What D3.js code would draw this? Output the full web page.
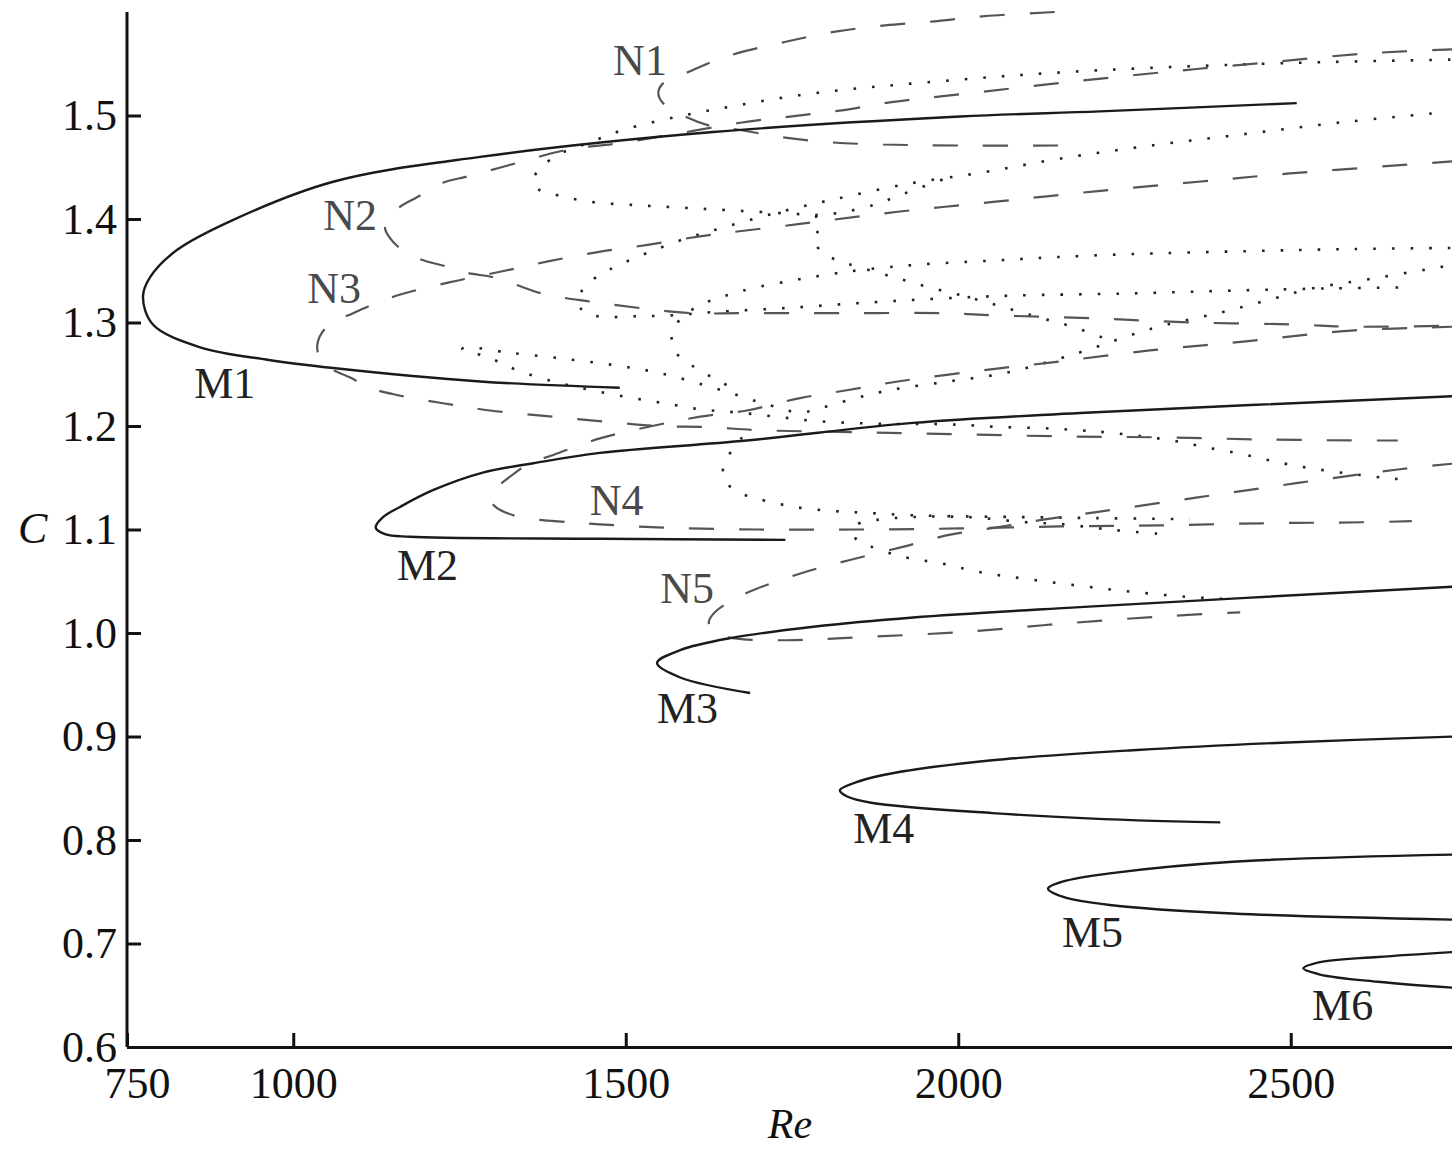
<!DOCTYPE html>
<html>
<head>
<meta charset="utf-8">
<script src="https://cdn.jsdelivr.net/npm/d3@7"></script>
<style>
  html, body { margin: 0; padding: 0; background: #fff; }
  .fold-chart text { font-family: "Liberation Serif", "Times New Roman", serif; }
  .fold-chart__axis path, .fold-chart__axis line { stroke: #111; stroke-width: 3; }
  .fold-chart__axis text { font-size: 44px; fill: #111; }
</style>
</head>
<body>
<div id="chart"></div>
<script>
// branches, points are [Re, C]
const m1 = [[2509,1.512],[2213,1.504],[2003,1.499],[1631,1.484],[1281,1.460],[1060,1.436],[909,1.399],[825,1.370],[785,1.344],[774,1.325],[789,1.298],[860,1.276],[961,1.264],[1060,1.256],[1281,1.243],[1491,1.237]];
const m2 = [[2750,1.229],[2183,1.2125],[1932,1.203],[1682,1.186],[1461,1.174],[1361,1.164],[1285,1.155],[1210,1.138],[1161,1.122],[1135,1.112],[1124,1.102],[1138,1.0955],[1176,1.093],[1461,1.091],[1740,1.090]];
const m3 = [[2750,1.045],[2183,1.025],[1932,1.015],[1782,1.006],[1657,0.995],[1582,0.9835],[1547,0.971],[1582,0.957],[1687,0.942]];
const m4 = [[2750,0.900],[2486,0.894],[2269,0.887],[2051,0.877],[1905,0.865],[1852,0.857],[1822,0.848],[1833,0.842],[1869,0.836],[2051,0.826],[2269,0.819],[2394,0.817]];
const m5 = [[2750,0.786],[2413,0.779],[2231,0.768],[2158,0.760],[2135,0.753],[2158,0.745],[2231,0.737],[2413,0.729],[2750,0.723]];
const m6 = [[2750,0.692],[2631,0.687],[2544,0.682],[2519,0.676],[2544,0.670],[2631,0.663],[2750,0.657]];

const n1 = [[2145,1.600],[2040,1.596],[1965,1.591],[1890,1.587],[1815,1.581],[1739,1.571],[1667,1.560],[1630,1.552],[1594,1.542],[1556,1.531],[1549,1.522],[1556,1.512],[1586,1.500],[1627,1.490],[1672,1.486],[1735,1.479],[1810,1.474],[1887,1.472],[2003,1.471],[2153,1.471]];
const n2 = [[2750,1.564],[2615,1.560],[2461,1.551],[2311,1.542],[2161,1.532],[2010,1.521],[1900,1.513],[1825,1.505],[1747,1.499],[1672,1.493],[1582,1.483],[1487,1.473],[1412,1.467],[1336,1.454],[1261,1.441],[1225,1.435],[1186,1.421],[1161,1.412],[1142,1.401],[1138,1.391],[1145,1.382],[1158,1.373],[1188,1.362],[1231,1.354],[1261,1.348],[1306,1.343],[1374,1.328],[1449,1.320],[1521,1.314],[1601,1.309],[1672,1.309],[1825,1.309],[1977,1.309],[2052,1.307],[2203,1.304],[2353,1.300],[2511,1.298],[2586,1.296],[2750,1.297]];
const n3 = [[2750,1.456],[2499,1.444],[2361,1.436],[2210,1.427],[2060,1.417],[1909,1.407],[1759,1.395],[1609,1.383],[1533,1.375],[1458,1.368],[1383,1.359],[1311,1.349],[1236,1.339],[1161,1.327],[1126,1.319],[1090,1.309],[1060,1.300],[1043,1.290],[1036,1.277],[1040,1.266],[1052,1.257],[1085,1.247],[1115,1.237],[1156,1.230],[1225,1.222],[1296,1.215],[1391,1.209],[1472,1.204],[1547,1.200],[1624,1.199],[1699,1.196],[1849,1.194],[2000,1.192],[2153,1.190],[2304,1.189],[2457,1.187],[2607,1.186],[2661,1.186]];
const n4 = [[2750,1.296],[2586,1.292],[2436,1.282],[2288,1.273],[2135,1.261],[2052,1.255],[1909,1.243],[1837,1.235],[1762,1.227],[1682,1.215],[1612,1.209],[1547,1.201],[1461,1.188],[1391,1.172],[1356,1.164],[1326,1.151],[1303,1.138],[1297,1.128],[1306,1.121],[1341,1.112],[1416,1.107],[1461,1.105],[1547,1.102],[1699,1.100],[1852,1.100],[2003,1.101],[2153,1.103],[2304,1.104],[2457,1.106],[2607,1.107],[2682,1.108]];
const n5 = [[2750,1.164],[2661,1.158],[2511,1.145],[2360,1.131],[2210,1.117],[2123,1.109],[2058,1.102],[1988,1.095],[1915,1.083],[1840,1.071],[1765,1.058],[1694,1.042],[1661,1.032],[1634,1.020],[1625,1.011],[1631,1.001],[1661,0.995],[1742,0.993],[1855,0.996],[2006,1.001],[2156,1.009],[2306,1.016],[2424,1.020]];

const pA = [[2740,1.554],[2514,1.551],[2288,1.546],[2138,1.541],[2028,1.536],[1915,1.530],[1830,1.525],[1744,1.518],[1661,1.509],[1579,1.499],[1496,1.486],[1442,1.473],[1401,1.463],[1373,1.450],[1361,1.438],[1368,1.429],[1386,1.425],[1442,1.417],[1526,1.413],[1612,1.410],[1697,1.407],[1753,1.405],[1792,1.404],[1830,1.407],[1875,1.414],[1912,1.423],[1980,1.439]];
const pB = [[2712,1.502],[2571,1.493],[2430,1.482],[2290,1.471],[2150,1.458],[2037,1.445],[1924,1.434],[1813,1.419],[1758,1.411],[1703,1.402],[1648,1.392],[1594,1.382],[1539,1.369],[1488,1.355],[1464,1.347],[1440,1.336],[1430,1.324],[1434,1.312],[1458,1.306],[1515,1.306],[1571,1.307],[1630,1.310],[1742,1.314],[1857,1.319],[1968,1.323],[2082,1.326],[2254,1.328],[2422,1.331],[2564,1.333],[2679,1.334]];
const pC = [[2729,1.354],[2619,1.342],[2533,1.333],[2479,1.324],[2397,1.310],[2314,1.298],[2260,1.288],[2206,1.276],[2152,1.265],[2069,1.251],[1985,1.243],[1900,1.235],[1846,1.227],[1791,1.217],[1762,1.213],[1717,1.220],[1642,1.235],[1552,1.251],[1491,1.258],[1407,1.265],[1323,1.271],[1258,1.276],[1254,1.274],[1285,1.268],[1309,1.262],[1336,1.254],[1391,1.243],[1445,1.235],[1502,1.228],[1558,1.222],[1613,1.216],[1669,1.213],[1726,1.209],[1782,1.205],[1839,1.203],[1896,1.202],[1953,1.202],[2009,1.201],[2063,1.199],[2123,1.198],[2180,1.196],[2236,1.193],[2321,1.186],[2376,1.179],[2433,1.172],[2488,1.164],[2542,1.158],[2600,1.153],[2655,1.149],[2684,1.148]];
const pD = [[1675,1.189],[1663,1.179],[1648,1.164],[1648,1.148],[1670,1.136],[1697,1.130],[1752,1.122],[1809,1.118],[1864,1.116],[1921,1.114],[1977,1.113],[2093,1.112],[2207,1.111],[2348,1.110]];
const pE = [[2740,1.372],[2595,1.371],[2439,1.369],[2255,1.366],[2141,1.363],[2057,1.360],[1942,1.356],[1857,1.351],[1801,1.346],[1746,1.340],[1690,1.333],[1661,1.328],[1636,1.323],[1609,1.316],[1585,1.305],[1570,1.291],[1573,1.273],[1594,1.261],[1618,1.251],[1643,1.243],[1666,1.233]];
const pF = [[1785,1.403],[1795,1.393],[1782,1.382],[1795,1.368],[1819,1.360],[1848,1.354],[1902,1.344],[1956,1.334],[2012,1.325],[2067,1.315],[2121,1.305],[2176,1.295],[2231,1.282]];
const pG = [[2299,1.096],[2242,1.099],[2213,1.101],[2158,1.105],[2102,1.107],[2015,1.112],[1931,1.112],[1875,1.109],[1848,1.105],[1842,1.099],[1846,1.091],[1867,1.084],[1921,1.073],[1977,1.067],[2031,1.059],[2117,1.051],[2230,1.042],[2342,1.035],[2398,1.033]];

const labelNames = ['N1', 'N2', 'N3', 'M1', 'N4', 'M2', 'N5', 'M3', 'M4', 'M5', 'M6'];
const labelRe = [1481, 1045, 1021, 851, 1446, 1156, 1552, 1547, 1842, 2156, 2532];
const labelC = [1.539, 1.389, 1.319, 1.227, 1.114, 1.051, 1.029, 0.913, 0.797, 0.697, 0.626];

const xTicks = [750, 1000, 1500, 2000, 2500];
const yTicks = [0.6, 0.7, 0.8, 0.9, 1.0, 1.1, 1.2, 1.3, 1.4, 1.5];

class FoldChart {
  constructor(el) {
    this.el = el;
    this.width = 1452;
    this.height = 1152;
    this.x = d3.scaleLinear().domain([750, 2750]).range([127, 1457]);
    this.y = d3.scaleLinear().domain([0.6, 1.6]).range([1047, 12]);
    this.line = d3.line()
      .x(d => this.x(d[0]))
      .y(d => this.y(d[1]))
      .curve(d3.curveCatmullRom.alpha(0.5));
  }

  render() {
    this.svg = d3.select(this.el).append('svg')
        .attr('class', 'fold-chart')
        .attr('width', this.width)
        .attr('height', this.height);

    this.svg.append('rect')
        .attr('width', this.width)
        .attr('height', this.height)
        .attr('fill', '#fff');

    this.drawCurves();
    this.drawAxes();
    this.drawLabels();
  }

  drawCurves() {
    const g = this.svg.append('g').attr('fill', 'none');

    // dotted family first so the heavier lines sit on top
    g.selectAll('.dotted')
        .data([pA, pB, pC, pD, pE, pF, pG])
      .enter().append('path')
        .attr('class', 'dotted')
        .attr('d', this.line)
        .attr('stroke', '#222')
        .attr('stroke-width', 2.6)
        .attr('stroke-dasharray', '2.6,16');

    g.selectAll('.dashed')
        .data([n1, n2, n3, n4, n5])
      .enter().append('path')
        .attr('class', 'dashed')
        .attr('d', this.line)
        .attr('stroke', '#555')
        .attr('stroke-width', 2.2)
        .attr('stroke-dasharray', '25,25');

    g.selectAll('.solid')
        .data([m1, m2, m3, m4, m5, m6])
      .enter().append('path')
        .attr('class', 'solid')
        .attr('d', this.line)
        .attr('stroke', '#1a1a1a')
        .attr('stroke-width', 2.4);
  }

  drawAxes() {
    const yAxis = this.svg.append('g')
        .attr('class', 'fold-chart__axis')
        .attr('transform', `translate(${this.x(750)},0)`)
        .call(d3.axisLeft(this.y)
          .tickValues(yTicks)
          .tickFormat(d3.format('.1f'))
          .tickSize(-14)
          .tickSizeOuter(0)
          .tickPadding(10));
    yAxis.select('.domain').attr('d', `M0,${this.y(1.6)}V${this.y(0.6)}`);

    const xAxis = this.svg.append('g')
        .attr('class', 'fold-chart__axis')
        .attr('transform', `translate(0,${this.y(0.6)})`)
        .call(d3.axisBottom(this.x)
          .tickValues(xTicks)
          .tickFormat(d3.format('d'))
          .tickSize(-14)
          .tickSizeOuter(0)
          .tickPadding(20));
    xAxis.selectAll('.tick')
        .filter(d => d === 750)
        .select('text')
        .attr('dx', 10);

    this.svg.append('text')
        .attr('x', 18)
        .attr('y', 543)
        .attr('font-size', 44)
        .attr('font-style', 'italic')
        .attr('fill', '#111')
        .text('C');

    this.svg.append('text')
        .attr('x', 790)
        .attr('y', 1138)
        .attr('text-anchor', 'middle')
        .attr('font-size', 42)
        .attr('font-style', 'italic')
        .attr('fill', '#111')
        .text('Re');
  }

  drawLabels() {
    this.svg.append('g')
      .selectAll('text')
        .data(labelNames)
      .enter().append('text')
        .attr('x', (d, i) => this.x(labelRe[i]))
        .attr('y', (d, i) => this.y(labelC[i]))
        .attr('font-size', 44)
        .attr('fill', d => d[0] === 'N' ? '#4a4a4a' : '#222')
        .text(d => d);
  }
}

new FoldChart('#chart').render();
</script>
</body>
</html>
